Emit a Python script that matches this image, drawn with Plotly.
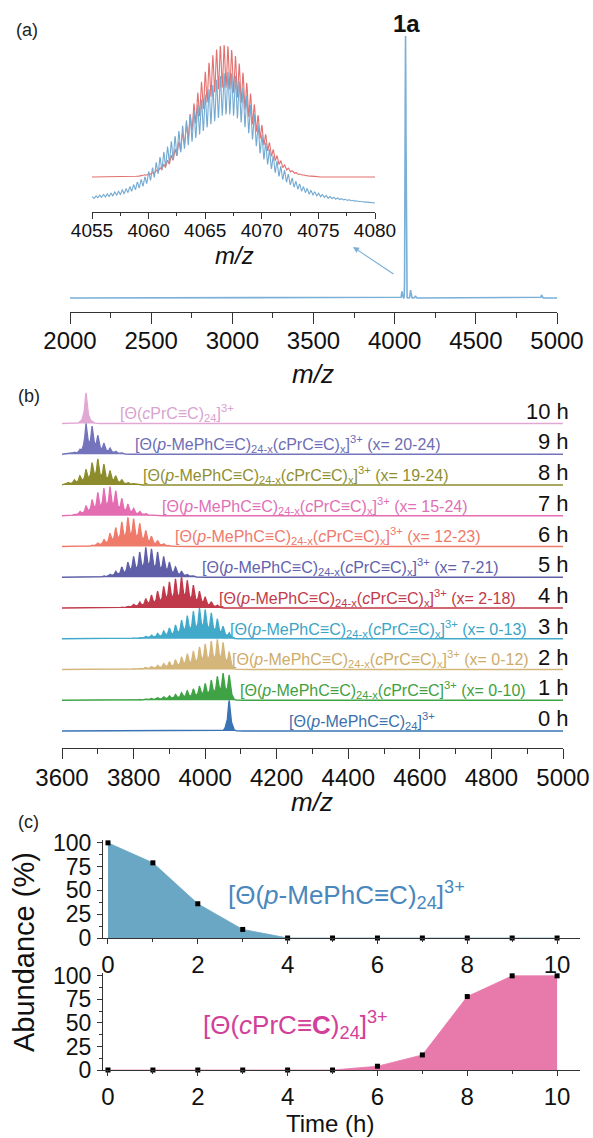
import numpy as np
import plotly.graph_objects as go

W, H = 593, 1138
FONT = "Liberation Sans, Arial, sans-serif"

# ---------------- DATA ----------------
# (a) full MS spectrum of 1a: peak positions (m/z) and relative intensities
a_peak_mz = [4045, 4067, 4098, 4128, 4905]
a_peak_int = [0.025, 1.0, 0.03, 0.008, 0.012]

# (a) inset: isotope peaks 4055-4080 (spacing 1/3 m/z), simulated (red) and measured (blue)
inset_sim = [0, 0, 0, 0, 0, 0, 0, 0, 0, 0, 0,
             0.005, 0.008, 0.012, 0.017, 0.025, 0.036, 0.051, 0.070, 0.095, 0.126,
             0.165, 0.212, 0.267, 0.330, 0.400, 0.476, 0.557, 0.639, 0.721, 0.797,
             0.865, 0.923, 0.965, 0.992, 1.0, 0.990, 0.962, 0.917, 0.859, 0.790,
             0.713, 0.631, 0.549, 0.468, 0.393, 0.323, 0.261, 0.207, 0.161, 0.123,
             0.092, 0.068, 0.049, 0.035, 0.024, 0.017, 0.011, 0.007, 0.005,
             0, 0, 0, 0, 0, 0, 0, 0, 0, 0, 0, 0, 0, 0, 0, 0]
inset_exp = [0.05, 0.055, 0.06, 0.065, 0.07, 0.075, 0.085, 0.09, 0.10, 0.11,
             0.125, 0.14, 0.16, 0.18, 0.20, 0.24, 0.27, 0.31, 0.35, 0.39,
             0.43, 0.47, 0.51, 0.55, 0.59, 0.63, 0.67, 0.71, 0.75, 0.79,
             0.83, 0.87, 0.90, 0.94, 0.97, 0.99, 1.0, 0.99, 0.97, 0.93,
             0.88, 0.82, 0.75, 0.68, 0.60, 0.52, 0.46, 0.41, 0.36, 0.32,
             0.28, 0.25, 0.22, 0.19, 0.165, 0.145, 0.125, 0.11, 0.095, 0.085,
             0.075, 0.065, 0.058, 0.05, 0.045, 0.04, 0.035, 0.03, 0.026, 0.022,
             0.018, 0.014, 0.01, 0.007, 0.004, 0.0]

# (b) cluster peak positions: [Θ(p-MePhC≡C)24-k(cPrC≡C)k]3+, k = 0..27
b_peak_mz = [4067, 4050, 4034, 4017, 4000, 3984, 3967, 3950, 3934, 3917,
             3900, 3884, 3867, 3850, 3834, 3817, 3800, 3784, 3767, 3750,
             3734, 3717, 3700, 3684, 3667, 3650, 3634, 3617]
times = ["0 h", "1 h", "2 h", "3 h", "4 h", "5 h", "6 h", "7 h", "8 h", "9 h", "10 h"]
# relative intensities per k for each time
h_0h = [1.0] + [0] * 27
h_1h = [0.95, 1.0, 0.88, 0.75, 0.62, 0.52, 0.42, 0.35, 0.28, 0.22, 0.17, 0.13, 0.10, 0.07,
        0.05, 0.03, 0.02, 0, 0, 0, 0, 0, 0, 0, 0, 0, 0, 0]
h_2h = [0.60, 0.90, 1.0, 0.95, 0.85, 0.75, 0.62, 0.52, 0.42, 0.33, 0.26, 0.20, 0.14, 0.10,
        0.07, 0.05, 0.03, 0.02, 0, 0, 0, 0, 0, 0, 0, 0, 0, 0]
h_3h = [0.20, 0.40, 0.65, 0.85, 0.95, 1.0, 0.90, 0.75, 0.60, 0.45, 0.35, 0.25, 0.18, 0.12,
        0.08, 0.05, 0.03, 0, 0, 0, 0, 0, 0, 0, 0, 0, 0, 0]
h_4h = [0, 0, 0.10, 0.20, 0.35, 0.55, 0.75, 0.90, 1.0, 0.95, 0.85, 0.70, 0.55, 0.42,
        0.30, 0.20, 0.12, 0.06, 0.03, 0, 0, 0, 0, 0, 0, 0, 0, 0]
h_5h = [0, 0, 0, 0, 0, 0, 0.05, 0.10, 0.20, 0.35, 0.50, 0.70, 0.85, 0.95,
        1.0, 0.85, 0.70, 0.50, 0.35, 0.20, 0.10, 0.05, 0, 0, 0, 0, 0, 0]
h_6h = [0, 0, 0, 0, 0, 0, 0, 0, 0, 0, 0.04, 0.10, 0.20, 0.35,
        0.55, 0.80, 0.95, 1.0, 0.85, 0.65, 0.45, 0.25, 0.12, 0.05, 0, 0, 0, 0]
h_7h = [0, 0, 0, 0, 0, 0, 0, 0, 0, 0, 0, 0, 0, 0.04,
        0.08, 0.15, 0.25, 0.40, 0.60, 0.85, 1.0, 0.95, 0.80, 0.55, 0.35, 0.15, 0.05, 0]
h_8h = [0, 0, 0, 0, 0, 0, 0, 0, 0, 0, 0, 0, 0, 0,
        0, 0, 0.05, 0.10, 0.20, 0.35, 0.55, 0.80, 1.0, 0.85, 0.60, 0.35, 0.20, 0.10]
h_9h = [0, 0, 0, 0, 0, 0, 0, 0, 0, 0, 0, 0, 0, 0,
        0, 0, 0, 0, 0.05, 0.10, 0.20, 0.35, 0.60, 0.90, 1.0, 0.15, 0.07, 0.03]
h_10h = [0] * 23 + [0.07, 1.0, 0.04, 0, 0]
b_heights = [h_0h, h_1h, h_2h, h_3h, h_4h, h_5h, h_6h, h_7h, h_8h, h_9h, h_10h]
b_scale = [1.0, 0.88, 0.98, 1.0, 1.0, 0.97, 0.95, 0.95, 0.85, 1.0, 1.0]
b_ranges = ["", "0-10", "0-12", "0-13", "2-18", "7-21", "12-23", "15-24", "19-24", "20-24", ""]

# (c) abundance vs time
time_h = [0, 1, 2, 3, 4, 5, 6, 7, 8, 9, 10]
abund_mephc = [100, 79, 36, 9, 0, 0, 0, 0, 0, 0, 0]
abund_cprc = [0, 0, 0, 0, 0, 0, 4, 16, 78, 100, 100]

# ---------------- STYLE ----------------
b_colors = ["#3a74b4", "#3fa345", "#d4b57a", "#41a9c9", "#c0394a", "#5f5fa9",
            "#f07a6a", "#e46db2", "#8c8c2c", "#7474bc", "#e2a8d4"]
b_text_colors = ["#3a70ad", "#3f9f3f", "#cdac6a", "#3aa5c6", "#c23b4b", "#6262ad",
                 "#ee7a6c", "#e070b5", "#8f8f30", "#6d6db5", "#d9a3cf"]
b_label_x = [4228, 4092, 4069, 4064, 4033, 3985, 3910, 3874, 3821, 3798, 3756]


def px(x):
    return x / W


def py(y):
    return 1 - y / H


def gauss_sum(grid, centers, heights, sigma):
    out = np.zeros_like(grid)
    for c, h in zip(centers, heights):
        if h:
            out += h * np.exp(-((grid - c) ** 2) / (2 * sigma ** 2))
    return out


fig = go.Figure()

# ---- (a) main spectrum
ga = np.arange(2000, 5000.01, 0.5)
sa = gauss_sum(ga, a_peak_mz, a_peak_int, 2.6)
fig.add_trace(go.Scatter(x=ga, y=sa, mode="lines", line=dict(color="#7ab0d8", width=1.6),
                         xaxis="x", yaxis="y", hoverinfo="skip"))

# ---- (a) inset
inset_mz = np.linspace(4055, 4080, 76)
gi = np.arange(4055, 4080.001, 0.01)
s_sim = gauss_sum(gi, inset_mz, inset_sim, 0.115)
s_sim = s_sim / s_sim.max()
s_exp = gauss_sum(gi, inset_mz, inset_exp, 0.115)
s_exp = s_exp / s_exp.max()
fig.add_trace(go.Scatter(x=gi, y=35 + 132 * s_sim, mode="lines",
                         line=dict(color="#e2716f", width=1.1), xaxis="x2", yaxis="y2"))
fig.add_trace(go.Scatter(x=gi, y=9 + 131 * s_exp, mode="lines",
                         line=dict(color="#74aad2", width=1.1), xaxis="x2", yaxis="y2"))

# ---- (b) stacked spectra
gb = np.arange(3600, 5000.01, 0.5)
for t in range(10, -1, -1):
    s = 0.5 * gauss_sum(gb, b_peak_mz, b_heights[t], 2.0) + \
        0.5 * gauss_sum(gb, b_peak_mz, b_heights[t], 6.5)
    s = s / s.max() * b_scale[t]
    fig.add_trace(go.Scatter(x=np.concatenate([[3600], gb, [5000]]),
                             y=np.concatenate([[t], t + s, [t]]),
                             mode="lines", fill="toself", fillcolor=b_colors[t],
                             line=dict(color=b_colors[t], width=1.3),
                             xaxis="x3", yaxis="y3", hoverinfo="skip"))

# ---- (c) abundance
fig.add_trace(go.Scatter(x=time_h, y=abund_mephc, mode="lines", fill="tozeroy",
                         fillcolor="#69a7c5", line=dict(color="#69a7c5", width=0.8),
                         xaxis="x4", yaxis="y4"))
fig.add_trace(go.Scatter(x=time_h, y=abund_mephc, mode="markers",
                         marker=dict(symbol="square", size=5, color="black"),
                         cliponaxis=False, xaxis="x4", yaxis="y4"))
fig.add_trace(go.Scatter(x=time_h, y=abund_cprc, mode="lines", fill="tozeroy",
                         fillcolor="#e77aab", line=dict(color="#e77aab", width=0.8),
                         xaxis="x5", yaxis="y5"))
fig.add_trace(go.Scatter(x=time_h, y=abund_cprc, mode="markers",
                         marker=dict(symbol="square", size=5, color="black"),
                         cliponaxis=False, xaxis="x5", yaxis="y5"))

axcol = "#333333"


def xax(domain, rng, anchor, dtick, minor, ticklen, font, standoff, tick0):
    return dict(domain=domain, range=rng, anchor=anchor, showline=True, linecolor=axcol,
                linewidth=1.3, ticks="outside", ticklen=ticklen, tickwidth=1.3,
                tickcolor=axcol, tickmode="linear", tick0=tick0,
                dtick=dtick, showgrid=False, zeroline=False, tickfont=font,
                ticklabelstandoff=standoff, automargin=False,
                minor=dict(dtick=minor, tick0=tick0, ticks="outside",
                           ticklen=max(3, ticklen // 2),
                           tickwidth=1.2, tickcolor=axcol, showgrid=False))


layout = dict(
    template="none",
    width=W, height=H, margin=dict(l=0, r=0, t=0, b=0, pad=0), autosize=False,
    paper_bgcolor="white", plot_bgcolor="rgba(0,0,0,0)", showlegend=False,
    font=dict(family=FONT, color="#111111"),
)
layout["xaxis"] = xax([px(70), px(557)], [2000, 5000], "y", 500, 250, 11,
                      dict(family=FONT, size=24, color="#111"), -4, 2000)
layout["yaxis"] = dict(domain=[py(312), py(30)], range=[-0.0534, 1.0229], visible=False,
                       automargin=False)
layout["xaxis2"] = xax([px(92), px(375)], [4055, 4080], "y2", 5, 2.5, 6,
                       dict(family=FONT, size=19, color="#111"), -5, 4055)
layout["yaxis2"] = dict(domain=[py(212), py(40)], range=[0, 172], visible=False,
                        automargin=False)
layout["xaxis3"] = xax([px(62), px(563)], [3600, 5000], "y3", 200, 100, 10,
                       dict(family=FONT, size=24, color="#111"), -2, 3600)
layout["yaxis3"] = dict(domain=[py(748), py(385)], range=[-0.553, 11.252], visible=False,
                        automargin=False)
for i, (b, t) in zip((4, 5), ((938, 840), (1070, 973))):
    layout[f"xaxis{i}"] = xax([px(103), px(580)], [-0.111, 10.51], f"y{i}", 2, 1, 5,
                              dict(family=FONT, size=24, color="#111"), 0, 0)
    layout[f"yaxis{i}"] = dict(domain=[py(b), py(t)], range=[0, 103], anchor=f"x{i}",
                               showline=True, linecolor=axcol, linewidth=1.3,
                               ticks="outside", ticklen=5, tickwidth=1.3, tickcolor=axcol,
                               tickvals=[0, 25, 50, 75, 100], showgrid=False, zeroline=False,
                               tickfont=dict(family=FONT, size=23, color="#111"),
                               ticklabelstandoff=1, automargin=False,
                               minor=dict(tickvals=[12.5, 37.5, 62.5, 87.5], ticks="outside",
                                          ticklen=3, tickwidth=1.2, tickcolor=axcol))

ann = []


def note(text, x, y, size, color="#111", xanchor="center", xref="paper", yref="paper",
         italic=False, bold=False, angle=0):
    if italic:
        text = f"<i>{text}</i>"
    if bold:
        text = f"<b>{text}</b>"
    ann.append(dict(text=text, x=x, y=y, xref=xref, yref=yref, xanchor=xanchor,
                    yanchor="middle", showarrow=False, textangle=angle,
                    font=dict(family=FONT, size=size, color=color)))


note("(a)", px(27), py(30), 18, "#222")
note("1a", px(407), py(23), 24, "#111", bold=True)
note("m/z", px(234), py(255), 24, italic=True)
note("m/z", px(313), py(374), 26, italic=True)
note("(b)", px(29), py(396), 18, "#222")
note("m/z", px(312), py(802), 26, italic=True)
note("(c)", px(28), py(822), 18, "#222")

# arrow pointing to inset
ann.append(dict(x=px(353), y=py(247), xref="paper", yref="paper", ax=42, ay=28,
                axref="pixel", ayref="pixel", showarrow=True, arrowhead=2, arrowsize=1.1,
                arrowwidth=1.1, arrowcolor="#7ab0d8", text=""))

mephc = "[Θ(<i>p</i>-MePhC≡C)"
for t in range(11):
    if t == 0:
        txt = mephc + "<sub>24</sub>]<sup>3+</sup>"
    elif t == 10:
        txt = "[Θ(<i>c</i>PrC≡C)<sub>24</sub>]<sup>3+</sup>"
    elif t == 1:
        txt = mephc + "<sub>24-x</sub>(<i>c</i>PrC≡C]<sup>3+</sup> (x= " + b_ranges[t] + ")"
    else:
        txt = mephc + "<sub>24-x</sub>(<i>c</i>PrC≡C)<sub>x</sub>]<sup>3+</sup> (x= " + b_ranges[t] + ")"
    note(txt, b_label_x[t], t + 0.33, 16, b_text_colors[t], xanchor="left", xref="x3", yref="y3")
    ann.append(dict(text=times[t], x=px(571), y=t + 0.4, xref="paper", yref="y3",
                    xanchor="right", yanchor="middle", showarrow=False,
                    font=dict(family=FONT, size=22, color="#111")))

note("[Θ(<i>p</i>-MePhC≡C)<sub>24</sub>]<sup>3+</sup>", px(346), py(895), 26, "#4a87bd")
note("[Θ(<i>c</i>PrC≡<b>C</b>)<sub>24</sub>]<sup>3+</sup>", px(295), py(1025), 26, "#d2409a")
note("Abundance (%)", px(24), py(952), 29, angle=-90)
note("Time (h)", px(330), py(1123), 24)

layout["annotations"] = ann
fig.update_layout(**layout)
fig.write_html("out.html")
